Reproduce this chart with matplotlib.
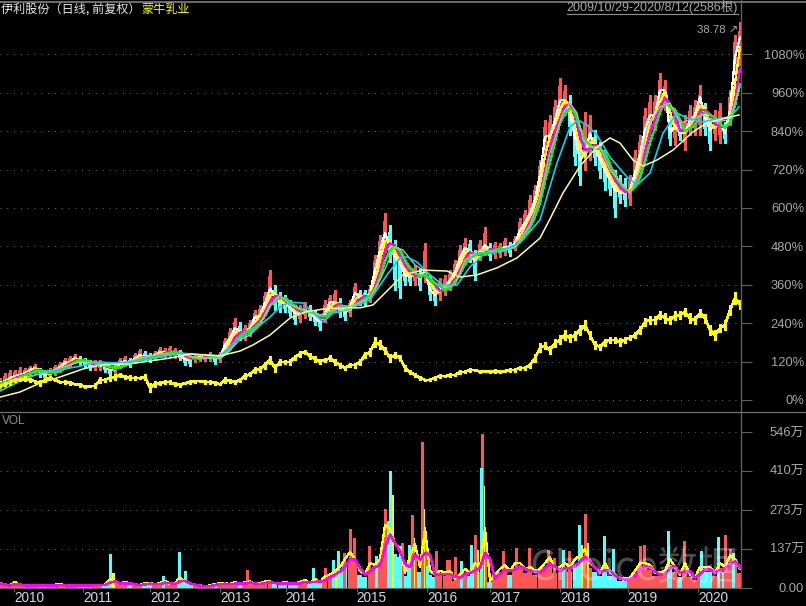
import numpy as np
import pandas as pd
import matplotlib
matplotlib.use("Agg")
import matplotlib.pyplot as plt

plt.rcParams["font.family"] = ["Liberation Sans", "Noto Sans CJK SC", "DejaVu Sans"]

# Values, one sample about every 17 trading days
close_pct = [53,59,69,75,78,84,94,100,88,78,84,94,103,119,119,131,125,116,109,109,109,103,94,97,116,122,116,131,141,134,
             131,141,150,150,150,150,141,128,125,131,134,134,134,128,134,172,194,225,212,212,225,259,266,303,350,319,306,303,288,272,
             272,281,275,256,244,272,306,306,291,272,291,334,322,319,334,406,469,522,478,447,428,391,384,391,381,406,344,328,350,353,
             375,400,444,475,463,431,463,484,463,469,469,478,475,491,531,553,584,625,703,822,828,875,938,938,897,822,750,772,834,788,
             750,719,688,656,650,647,656,709,772,844,891,891,969,969,834,859,834,834,875,891,947,884,844,859,866,834,906,1072,1134]
high_pct = [69,84,94,94,103,100,106,113,100,94,100,109,119,131,138,144,138,131,125,125,125,116,106,109,131,138,131,147,159,153,
            147,153,166,162,169,162,156,141,138,144,144,144,150,141,150,194,225,256,244,234,250,281,297,338,406,359,338,328,312,297,
            297,306,297,281,266,312,328,344,319,297,312,366,344,344,359,453,516,584,547,500,469,431,412,422,412,491,391,359,381,391,
            406,438,484,506,500,469,500,541,491,494,491,506,494,512,569,594,641,672,750,875,891,938,1006,984,953,859,813,900,891,844,
            806,781,734,719,703,694,703,781,828,913,953,953,1022,1000,891,906,875,891,922,938,984,928,881,906,928,869,969,1141,1181]
low_pct = [34,41,53,59,63,69,78,81,72,63,69,78,88,103,103,116,109,100,94,94,94,88,75,81,100,106,103,116,125,122,
           119,125,134,134,134,131,125,109,106,119,122,122,122,113,119,150,169,194,188,188,200,231,238,275,313,281,275,275,263,238,
           244,256,250,234,219,244,275,275,259,250,263,297,297,294,306,359,422,463,431,344,319,359,359,359,344,369,313,297,313,328,
           344,369,406,431,431,375,438,453,438,444,447,453,450,469,506,525,556,588,656,766,781,828,875,891,828,734,672,719,750,734,
           694,656,641,572,616,606,609,672,719,781,844,844,906,906,797,797,813,781,828,828,828,828,781,813,803,803,859,1031,1047]

index_pct = [44,50,56,63,63,66,63,59,53,63,69,63,56,56,53,50,47,41,44,44,63,63,69,72,78,72,69,69,69,72,
             38,50,53,56,56,50,47,53,56,59,59,56,56,53,50,63,59,56,63,75,81,94,97,109,125,100,119,119,119,134,
             144,150,138,128,119,125,131,119,109,100,109,109,119,141,150,181,172,156,131,141,131,100,88,78,69,63,63,69,75,75,
             78,78,88,88,94,94,88,91,88,91,88,91,94,94,100,100,109,131,163,169,156,178,188,203,194,203,219,234,203,172,
             166,181,188,188,181,188,194,203,219,244,250,250,266,256,250,263,266,275,256,250,272,256,219,203,225,234,281,319,297]
# how far the index line swings inside each sample
index_swing = [4,6,8,6,5,8,6,5,9,7,6,5,4,6,5,4,6,5,4,8,9,7,10,8,7,6,8,5,4,9,
               14,9,6,5,6,7,5,4,6,5,4,5,6,5,4,9,7,5,6,8,7,10,9,11,12,13,10,7,9,8,
               9,7,10,9,8,6,10,9,8,7,6,8,9,10,12,16,14,11,12,10,9,10,7,6,5,4,5,5,6,4,
               5,4,6,5,5,4,5,4,5,6,5,4,5,6,5,7,8,12,14,11,13,12,14,15,12,14,16,15,13,12,
               10,11,9,10,12,9,8,10,12,13,14,12,13,15,11,14,12,13,16,12,13,14,16,15,14,15,16,18,14]

# Slow averages, position in samples
ma60_at = [0,4,8,12,16,20,24,28,32,36,40,44,46,48,50,52,54,56,58,61,64,66.6,70,74,76,79,80.6,83,86,89,91,93,96,100,103,106,108,110,112.6,114,115.4,116.6,118,120,122,124.6,126,128,129.4,132,134,136,138,140.6,143.4,145.4,146.6,147.8]
ma60_pct = [38,69,81,100,119,116,113,131,144,144,131,131,156,188,203,234,297,328,297,281,266,281,291,319,375,478,469,422,391,353,359,438,469,463,478,547,634,772,897,928,897,813,791,791,719,672,647,719,853,916,928,866,875,891,869,875,906,975]
ma120_at = [0,4,8.6,12,16,19.4,22.6,26.6,32,36,40,44,47.4,50,54,56,58,60.6,62,64.6,66.6,69.4,74,77.4,80,81.4,83.4,86,88.6,91.4,94,96.6,100.6,104,108,111.4,114,115.6,117.4,119.4,122,125.4,127.4,130,132.6,135.4,137.4,140.6,144,146,147.8]
ma120_pct = [28,59,88,94,106,119,116,119,134,147,141,138,188,209,259,291,306,303,281,244,272,281,313,391,444,447,431,391,359,359,416,453,469,491,563,741,853,875,859,828,759,697,672,709,834,897,881,869,881,884,916]
ma250_at = [0,4,8,12,16.6,20,26,34,38,44,48,50.6,54,58,61,64.6,68,72,74.6,78,80.6,84.6,89.4,92,95.4,99.4,103.4,108,110,112.6,116,119.4,122,124,126.6,128.6,131.4,134.6,138.6,141.4,146,147.8]
ma250_pct = [9,25,53,72,97,109,113,131,144,138,153,172,203,256,275,284,288,288,297,350,391,406,403,384,391,413,444,506,566,647,731,791,819,803,750,731,750,781,838,866,884,891]

volume_wan = [15,10,8,18,8,8,8,8,8,8,8,10,12,8,8,8,8,8,10,10,10,
              10,28,18,15,18,15,10,10,15,15,12,15,22,12,15,32,18,15,8,8,6,8,12,15,15,12,18,12,18,20,12,15,20,20,15,15,18,15,15,18,25,15,28,18,35,
              41,52,64,88,110,88,52,41,76,70,88,192,181,134,122,47,99,134,64,181,52,41,52,47,52,29,41,58,47,76,64,181,23,41,58,70,52,76,76,58,64,52,58,76,93,58,
              64,76,64,88,99,117,76,64,47,76,47,41,29,31,31,52,76,76,70,47,47,52,88,64,41,76,41,31,64,64,64,47,76,64,99,88,58]

# Single day volume spikes, position in samples
cyan_spike_at = [22,32.6,35.8,37,62.6,66.6,67.6,75.2,77.6,78,80,81.8,85.4,92.2,94.2,96.2,112.6,115.8,120.8,122.6,133.6,140.2,143.6,146.6]
cyan_spike_wan = [119,43,126,58,70,99,131,111,233,411,146,152,77,93,152,420,132,221,183,138,200,128,179,123]
red_spike_at = [49.4,65,68.8,70,70.8,73.8,77,80.4,82.4,84.4,87.2,89.4,89.8,91,95,96.4,100.6,103.2,105.8,109.6,110.8,113.8,117,128,128.8,136.8,145,146]
red_spike_wan = [64,70,122,207,175,146,277,158,257,512,128,99,99,108,187,540,130,140,140,133,105,128,260,148,152,164,187,136]
yellow_spike_at = [22.6,67,78.4,82.6,84.6,95.4,96.6,116.2,117.4]
yellow_spike_wan = [52,64,327,175,277,134,356,152,158]

year_bars = [49,290,524,769,999,1247,1492,1712,1957,2194,2439]
year_labels = ["2010","2011","2012","2013","2014","2015","2016","2017","2018","2019","2020"]
price_ticks = [0,120,240,360,480,600,720,840,960,1080]
vol_ticks = [0,137,273,410,546]
vol_tick_labels = ["0.00","137万","273万","410万","546万"]

UP = "#ff5555"
DOWN = "#55ffff"
AXIS = "#606060"
TEXT = "#a8a8a8"
W, H = 806, 606
TOTAL_BARS = 2586

def axes_px(x0, y0, x1, y1):
    return fig.add_axes([x0 / W, 1 - y1 / H, (x1 - x0) / W, (y1 - y0) / H])

fig = plt.figure(figsize=(W / 100, H / 100), dpi=100, facecolor="black")
ax = axes_px(0, 2, 741, 412)
ax_vol = axes_px(0, 412, 741, 588)

step = TOTAL_BARS / (len(close_pct) - 1)
x = np.arange(len(close_pct)) * step
close = pd.Series(close_pct, dtype=float)
high = np.array(high_pct, dtype=float)
low = np.array(low_pct, dtype=float)
prev = close.shift(1).fillna(close[0]).values
up = close.values >= prev
colors = np.where(up, UP, DOWN)

for a in (ax, ax_vol):
    a.set_facecolor("black")
    a.set_xlim(0, TOTAL_BARS * 741 / 740)
    a.yaxis.tick_right()
    for s in ("left", "top"):
        a.spines[s].set_visible(False)
    a.spines["right"].set_color(AXIS)
    a.spines["bottom"].set_color(AXIS)
    a.set_axisbelow(True)
    a.grid(axis="y", color="#707070", linewidth=0.7, linestyle=(0, (1, 6)))
    a.tick_params(axis="y", colors=AXIS, length=8, width=0.8, pad=37.4, labelcolor=TEXT, labelsize=9.3)

# price panel
ax.set_ylim(-37.5, 1243.75)
ax.set_yticks(price_ticks)
ax.set_yticklabels([f"{t}%" for t in price_ticks], ha="right")
ax.set_xticks([])
ax.vlines(x, low, high, colors=colors, linewidth=0.8, antialiased=False)
# many days fall in one sample, so the bodies pile up over most of the range
body_low = low + (high - low) * 0.2
body_high = high - (high - low) * 0.2
ax.bar(x, body_high - body_low, bottom=body_low, width=step * 0.95, color=colors, linewidth=0, antialiased=False)

ax.plot(x, close, color="white", linewidth=0.9, antialiased=False)
ax.plot(x, close.rolling(2, min_periods=1).mean(), color="#ffff00", linewidth=0.9, antialiased=False)
ax.plot(x, close.rolling(3, min_periods=1).mean(), color="#ff00ff", linewidth=0.9, antialiased=False)
ax.plot(x, close.rolling(4, min_periods=1).mean(), color="#00ff00", linewidth=0.9, antialiased=False)
ax.plot(np.array(ma60_at) * step, ma60_pct, color="#b8b8b8", linewidth=1.0)
ax.plot(np.array(ma120_at) * step, ma120_pct, color="#00d8f0", linewidth=1.2)
ax.plot(np.array(ma250_at) * step, ma250_pct, color="#ffff99", linewidth=1.1)
ax.plot(x, index_pct, color="#ffff00", linewidth=1.1, antialiased=False)
ax.vlines(x, np.array(index_pct) - index_swing, np.array(index_pct) + index_swing,
          colors="#ffff00", linewidth=0.9, antialiased=False)

# volume panel
vol = pd.Series(volume_wan, dtype=float)
ax_vol.set_ylim(0, 616)
ax_vol.set_yticks(vol_ticks)
ax_vol.set_yticklabels(vol_tick_labels, ha="right", family=["Liberation Sans", "Noto Sans CJK SC"])
ax_vol.set_xticks(year_bars)
ax_vol.set_xticklabels(year_labels, ha="left", color="#d0d8e0", fontsize=9.8)
ax_vol.tick_params(axis="x", colors=AXIS, length=3, width=0.8, pad=-1, labelcolor="#d0d8e0")

ax_vol.bar(x, vol * 0.9, width=step, color=colors, linewidth=0, antialiased=False)
ax_vol.vlines(np.array(yellow_spike_at) * step, 0, yellow_spike_wan, colors="#ffff00", linewidth=1.0, antialiased=False)
ax_vol.vlines(np.array(red_spike_at) * step, 0, red_spike_wan, colors=UP, linewidth=0.8, antialiased=False)
ax_vol.vlines(np.array(cyan_spike_at) * step, 0, cyan_spike_wan, colors=DOWN, linewidth=0.8, antialiased=False)
ax_vol.plot(x, vol * 1.15, color="#ffff00", linewidth=0.9, antialiased=False)
ax_vol.plot(x, vol.rolling(2, min_periods=1).mean(), color="#ff00ff", linewidth=1.1, antialiased=False)

# header and notes, placed in pixels
def px_text(px, py, s, **kw):
    fig.text(px / W, 1 - py / H, s, va="center", **kw)

cjk = ["Noto Sans CJK SC", "DejaVu Sans"]
px_text(1, 9, "伊利股份（日线, 前复权）", color="#e8e8e8", fontsize=8.7, family=cjk)
px_text(141, 9, "蒙牛乳业", color="#ffff00", fontsize=8.7, family=cjk)
px_text(738, 7, "2009/10/29-2020/8/12(2586根)", color=TEXT, fontsize=9, ha="right",
        family=["Liberation Sans", "Noto Sans CJK SC"])
px_text(738, 30, "38.78 ↗", color=TEXT, fontsize=8.2, ha="right", family=["Liberation Sans", "DejaVu Sans"])
px_text(2, 421, "VOL", color="#909090", fontsize=8.6)
px_text(530, 568, "Choice数据", color="white", alpha=0.3, fontsize=29, family=cjk)

fig.add_artist(plt.Line2D([567 / W, 738 / W], [1 - 13.5 / H] * 2, color="#909090", linewidth=0.8))
fig.add_artist(plt.Line2D([0, 1], [1 - 1.5 / H] * 2, color="#808080", linewidth=1.2))
fig.add_artist(plt.Line2D([741 / W] * 2, [1 - 588 / H, 1], color=AXIS, linewidth=0.9))
fig.add_artist(plt.Line2D([0, 1], [1 - 412 / H] * 2, color="#707070", linewidth=0.9))

fig.savefig("out.png", dpi=100, facecolor="black")
